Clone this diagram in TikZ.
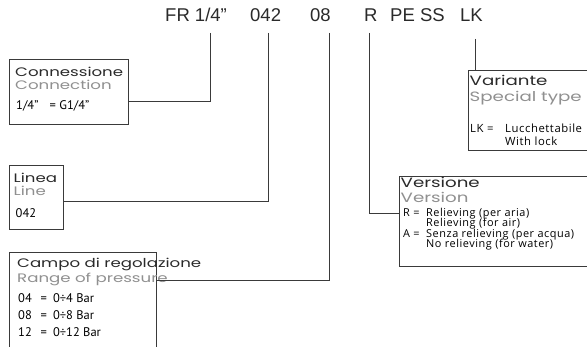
\documentclass[tikz,border=0pt]{standalone}
\usepackage{fontspec}
\setmainfont{Liberation Sans}
\newfontfamily\titlefont[FakeStretch=1.35]{Poppins}
\newfontfamily\valfont{PT Sans}
\newfontfamily\valfontb[LetterSpace=5]{Open Sans}
\definecolor{lncol}{HTML}{3A3A3A}
\definecolor{tcol}{HTML}{2A2A2A}
\definecolor{gcol}{HTML}{909090}
\begin{document}
\begin{tikzpicture}[x=1pt,y=-1pt,
  boxst/.style={draw=lncol, line width=0.8pt, anchor=north west, inner sep=0pt},
  conn/.style={draw=lncol, line width=0.8pt},
  code/.style={anchor=base west, inner sep=0pt, font=\fontsize{18.5}{22}\selectfont, text=tcol},
  ttl/.style={anchor=base west, inner sep=0pt, font=\titlefont\fontsize{12.3}{14}\selectfont, text=tcol},
  eng/.style={ttl, text=gcol},
  bttl/.style={ttl, font=\titlefont\fontsize{13.5}{15}\selectfont},
  beng/.style={bttl, text=gcol},
  val/.style={anchor=base west, inner sep=0pt, font=\valfont\fontsize{12.5}{14}\selectfont, text=black},
  valv/.style={val, font=\valfontb\fontsize{10.9}{12}\selectfont},
  valw/.style={val, font=\valfontb\fontsize{11.3}{14}\selectfont}]
\clip (0,0) rectangle (587,347);
\fill[white] (0,0) rectangle (587,347);

% code line
\node[code] (t1) at (165,22) {FR 1/4”};
\node[code] (t2) at (250,22) {042};
\node[code] (t3) at (310,22) {08};
\node[code] (t4) at (364,22) {R};
\node[code] (t5) at (390,22) {PE SS};
\node[code] (t6) at (460,22) {LK};

% boxes
\node[boxst, minimum width=119.5pt, minimum height=65pt] (conn) at (8.5,59) {};
\node[boxst, minimum width=54pt, minimum height=63.5pt] (linea) at (8.5,165.5) {};
\node[boxst, minimum width=147pt, minimum height=130pt] (campo) at (9,252) {};
\node[boxst, minimum width=188pt, minimum height=90pt] (vers) at (398.5,176) {};
\node[boxst, minimum width=119pt, minimum height=80pt] (var) at (467.5,70.5) {};

% Connessione
\node[ttl] (c1) at (15,76.5) {Connessione};
\node[eng] (c2) at (15,89.5) {Connection};
\node[val] (c3) at (16,110) {1/4”\hspace{0.9em}= G1/4”};

% Linea
\node[ttl] (l1) at (13.5,183) {Linea};
\node[eng] (l2) at (13.5,196) {Line};
\node[val] (l3) at (15.5,218) {042};

% Campo
\node[ttl] (p1) at (17,268) {Campo di regolazione};
\node[eng] (p2) at (17,283) {Range of pressure};
\node[val] (p3) at (18,303) {04\hspace{0.7em}=\hspace{0.5em}0÷4 Bar};
\node[val] (p4) at (18,320) {08\hspace{0.7em}=\hspace{0.5em}0÷8 Bar};
\node[val] (p5) at (18,337) {12\hspace{0.7em}=\hspace{0.5em}0÷12 Bar};

% Versione
\node[bttl] (v1) at (400.5,187.5) {Versione};
\node[beng] (v2) at (400.5,203) {Version};
\node[valv] (v3) at (403,216.5) {R =};
\node[valv] (v4) at (426,216.5) {Relieving (per aria)};
\node[valv] (v5) at (426,227) {Relieving (for air)};
\node[valv] (v6) at (403,237.5) {A =};
\node[valv] (v7) at (426,237.5) {Senza relieving (per acqua)};
\node[valv] (v8) at (426,248) {No relieving (for water)};

% Variante
\node[bttl] (w1) at (469.5,86) {Variante};
\node[beng] (w2) at (469.5,102) {Special type};
\node[valw] (w3) at (470,133) {LK =};
\node[valw] (w4) at (505,133) {Lucchettabile};
\node[valw] (w5) at (505,146) {With lock};

% connectors
\coordinate (a1) at (210,33);  \coordinate (a1b) at (210,101);
\coordinate (a2) at (268,33);  \coordinate (a2b) at (268,201);
\coordinate (a3) at (329,33);  \coordinate (a3b) at (329,280);
\coordinate (a4) at (369,33);  \coordinate (a4b) at (369,213);
\coordinate (a5) at (475,39);
\draw[conn] (a1) -- (a1b) -- (conn.east |- a1b);
\draw[conn] (a2) -- (a2b) -- (linea.east |- a2b);
\draw[conn] (a3) -- (a3b) -- (campo.east |- a3b);
\draw[conn] (a4) -- (a4b) -- (vers.west |- a4b);
\draw[conn] (a5) -- (var.north -| a5);
\end{tikzpicture}
\end{document}
